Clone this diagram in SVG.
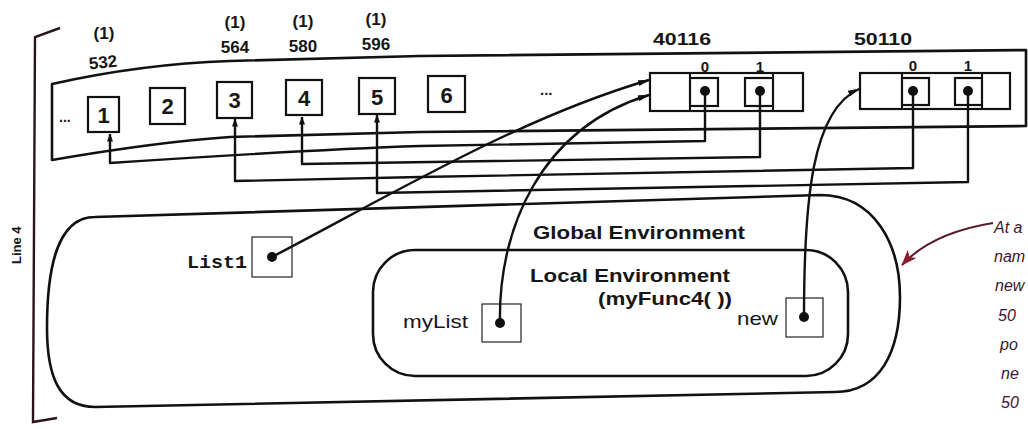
<svg xmlns="http://www.w3.org/2000/svg" width="1028" height="429" viewBox="0 0 1028 429">
  <defs>
    <marker id="arr" viewBox="0 0 12 6" refX="11" refY="3" markerWidth="12" markerHeight="6" markerUnits="userSpaceOnUse" orient="auto">
      <path d="M0,0 L12,3 L0,6 Z" fill="#111"/>
    </marker>
    <marker id="arrUp" viewBox="0 0 8 6" refX="7.5" refY="3" markerWidth="8" markerHeight="6" markerUnits="userSpaceOnUse" orient="auto">
      <path d="M0,0 L8,3 L0,6 Z" fill="#111"/>
    </marker>
    <marker id="arrRed" viewBox="0 0 16 12" refX="15" refY="6" markerWidth="16" markerHeight="12" markerUnits="userSpaceOnUse" orient="auto">
      <path d="M0,0 L16,6 L0,12 L4,6 Z" fill="#8a1c2c"/>
    </marker>
  </defs>
  <style>
    .txt { font-family: "Liberation Sans", Arial, sans-serif; fill: #161616; }
    .b { font-weight: bold; }
    .thick { fill: none; stroke: #111; stroke-width: 2.6; stroke-linejoin: round; }
    .cell { fill: #fff; stroke: #111; stroke-width: 2.2; }
    .thin { fill: #fff; stroke: #333; stroke-width: 1.3; }
    .conn { fill: none; stroke: #111; stroke-width: 2.4; stroke-linejoin: round; }
    .dot { fill: #111; }
    .note { font-family: "Liberation Sans", Arial, sans-serif; font-style: italic; font-size: 16px; fill: #3e1532; }
  </style>
  <rect width="1028" height="429" fill="#fff"/>

  <!-- left bracket and side label -->
  <g id="bracket">
    <path d="M60,28 L35,37 L33,422 L57,418" fill="none" stroke="#2a1418" stroke-width="2.4"/>
    <text class="txt b" transform="translate(21,264) rotate(-90)" font-size="13">Line 4</text>
  </g>

  <!-- memory band -->
  <g id="memory">
    <path class="thick" d="M52,84 C110,71 170,63 230,61 L420,56 L1026,50 L1026,126 L420,132 L230,137 C170,141 110,150 52,160 Z"/>
    <text class="txt b" x="59" y="122" font-size="14">...</text>
    <text class="txt b" x="540" y="95" font-size="15">...</text>
  </g>

  <g id="cell532">
    <text class="txt b" x="104" y="39" font-size="17" text-anchor="middle">(1)</text>
    <text class="txt b" x="103" y="68" font-size="17" text-anchor="middle" transform="rotate(-6 103 62)">532</text>
    <rect class="cell" x="88" y="97" width="31" height="35"/>
    <text class="txt b" x="103.5" y="123" font-size="22" text-anchor="middle">1</text>
  </g>
  <g id="cell2">
    <rect class="cell" x="150" y="88" width="35" height="36"/>
    <text class="txt b" x="167.5" y="114" font-size="22" text-anchor="middle">2</text>
  </g>
  <g id="cell564">
    <text class="txt b" x="235" y="28" font-size="17" text-anchor="middle">(1)</text>
    <text class="txt b" x="235" y="53" font-size="17" text-anchor="middle">564</text>
    <rect class="cell" x="217" y="82" width="35" height="36"/>
    <text class="txt b" x="234.5" y="108" font-size="22" text-anchor="middle">3</text>
  </g>
  <g id="cell580">
    <text class="txt b" x="303" y="27" font-size="17" text-anchor="middle">(1)</text>
    <text class="txt b" x="303" y="52" font-size="17" text-anchor="middle">580</text>
    <rect class="cell" x="286" y="80" width="36" height="35"/>
    <text class="txt b" x="304" y="106" font-size="22" text-anchor="middle">4</text>
  </g>
  <g id="cell596">
    <text class="txt b" x="376" y="25" font-size="17" text-anchor="middle">(1)</text>
    <text class="txt b" x="376" y="50" font-size="17" text-anchor="middle">596</text>
    <rect class="cell" x="359" y="78" width="36" height="36"/>
    <text class="txt b" x="377" y="105" font-size="22" text-anchor="middle">5</text>
  </g>
  <g id="cell6">
    <rect class="cell" x="428" y="76" width="37" height="36"/>
    <text class="txt b" x="446.5" y="103" font-size="22" text-anchor="middle">6</text>
  </g>

  <!-- list object at 40116 -->
  <g id="list40116">
    <text class="txt b" x="653" y="45" font-size="17" textLength="58" lengthAdjust="spacingAndGlyphs">40116</text>
    <rect class="cell" x="650" y="73" width="153" height="38"/>
    <line x1="690" y1="73" x2="690" y2="111" stroke="#111" stroke-width="2"/>
    <line x1="773" y1="73" x2="773" y2="111" stroke="#111" stroke-width="2"/>
    <rect class="cell" x="690" y="78" width="28" height="28"/>
    <rect class="cell" x="745" y="78" width="28" height="28"/>
    <text class="txt b" x="705" y="72" font-size="15" text-anchor="middle">0</text>
    <text class="txt b" x="760" y="72" font-size="15" text-anchor="middle">1</text>
  </g>

  <!-- list object at 50110 -->
  <g id="list50110">
    <text class="txt b" x="854" y="45" font-size="17" textLength="58" lengthAdjust="spacingAndGlyphs">50110</text>
    <rect class="cell" x="860" y="73" width="150" height="36"/>
    <line x1="902" y1="73" x2="902" y2="109" stroke="#111" stroke-width="2"/>
    <line x1="982" y1="73" x2="982" y2="109" stroke="#111" stroke-width="2"/>
    <rect class="cell" x="902" y="78" width="27" height="27"/>
    <rect class="cell" x="955" y="78" width="27" height="27"/>
    <text class="txt b" x="913" y="71" font-size="15" text-anchor="middle">0</text>
    <text class="txt b" x="968" y="71" font-size="15" text-anchor="middle">1</text>
  </g>

  <!-- environments -->
  <g id="globalEnv">
    <path class="thick" d="M95,217 L820,195 C875,195 900,245 900,297 C900,352 880,392 835,392 L95,407 C60,407 47,378 47,328 C47,268 57,217 95,217 Z"/>
    <text class="txt b" x="533" y="239" font-size="19" textLength="212" lengthAdjust="spacingAndGlyphs">Global Environment</text>
  </g>
  <g id="localEnv">
    <rect class="thick" x="373" y="250" width="475" height="126" rx="42" ry="42"/>
    <text class="txt b" x="530" y="282" font-size="19" textLength="200" lengthAdjust="spacingAndGlyphs">Local Environment</text>
    <text class="txt b" x="598" y="305" font-size="19" textLength="134" lengthAdjust="spacingAndGlyphs">(myFunc4( ))</text>
  </g>

  <g id="varList1">
    <text x="187" y="268" font-family="'Liberation Mono', 'Courier New', monospace" font-weight="bold" font-size="18" fill="#161616" textLength="60" lengthAdjust="spacingAndGlyphs">List1</text>
    <rect class="thin" x="252" y="237" width="40" height="40"/>
    <circle class="dot" cx="272" cy="257" r="5"/>
  </g>
  <g id="varMyList">
    <text class="txt" x="403" y="328" font-size="19" textLength="65" lengthAdjust="spacingAndGlyphs">myList</text>
    <rect class="thin" x="482" y="304" width="39" height="38"/>
    <circle class="dot" cx="500" cy="323" r="5"/>
  </g>
  <g id="varNew">
    <text class="txt" x="737" y="325" font-size="19" textLength="41" lengthAdjust="spacingAndGlyphs">new</text>
    <rect class="thin" x="786" y="298" width="37" height="39"/>
    <circle class="dot" cx="804" cy="317" r="5"/>
  </g>

  <!-- connectors -->
  <g id="connectors">
    <path class="conn" d="M705,91 V141 L420,146 C330,149 230,155 110,163 V134" marker-end="url(#arrUp)"/>
    <path class="conn" d="M760,91 V157 L302,164 V117" marker-end="url(#arrUp)"/>
    <path class="conn" d="M913,91 V168 L420,177 L235,181 V119" marker-end="url(#arrUp)"/>
    <path class="conn" d="M968,91 V182 L377,193 V115" marker-end="url(#arrUp)"/>
    <path class="conn" d="M272,257 C400,190 520,118 649,80" marker-end="url(#arr)"/>
    <path class="conn" d="M500,323 C498,230 540,128 649,95" marker-end="url(#arr)"/>
    <path class="conn" d="M804,317 C804,200 812,110 859,89" marker-end="url(#arr)"/>
    <circle class="dot" cx="705" cy="91" r="5"/>
    <circle class="dot" cx="760" cy="91" r="5"/>
    <circle class="dot" cx="913" cy="91" r="5"/>
    <circle class="dot" cx="968" cy="91" r="5"/>
  </g>

  <!-- annotation -->
  <g id="annotation">
    <path d="M993,223 C962,228 925,240 902,265" fill="none" stroke="#5a1a26" stroke-width="2" marker-end="url(#arrRed)"/>
    <text class="note" x="994" y="233">At a</text>
    <text class="note" x="994" y="262">nam</text>
    <text class="note" x="995" y="291">new</text>
    <text class="note" x="998" y="321">50</text>
    <text class="note" x="1000" y="350">po</text>
    <text class="note" x="1001" y="379">ne</text>
    <text class="note" x="1001" y="408">50</text>
  </g>
</svg>
